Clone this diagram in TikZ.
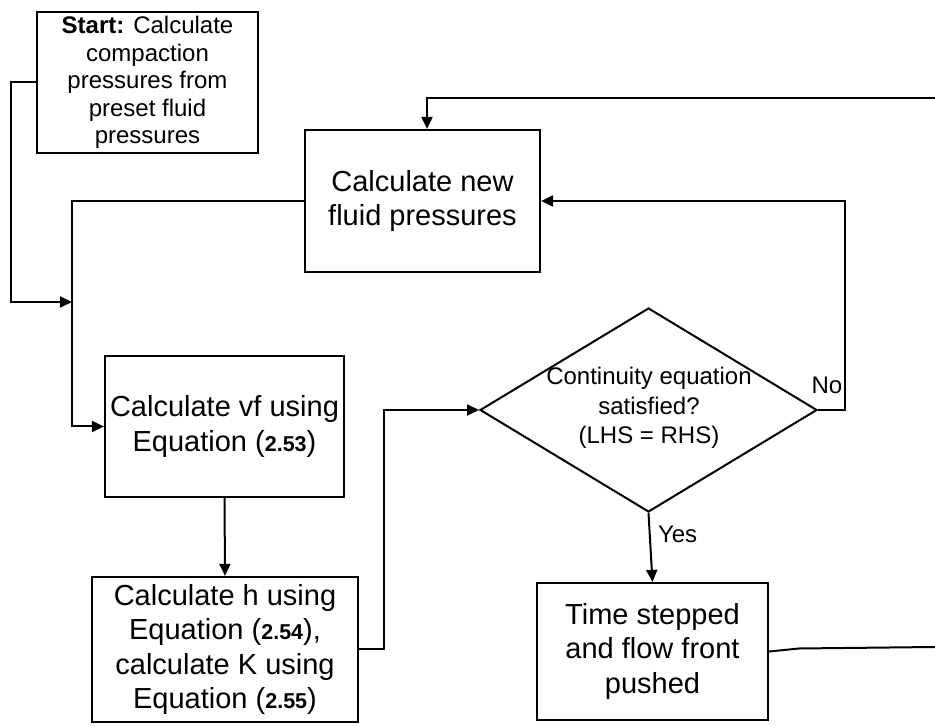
\documentclass[tikz,border=0pt]{standalone}
\usepackage{fontspec}
\setmainfont{Liberation Sans}
\usetikzlibrary{shapes.geometric,arrows.meta}

\newcommand{\eqnum}[1]{{\fontsize{21.5}{34}\selectfont\bfseries #1}}

\begin{document}
\begin{tikzpicture}[x=1pt,y=1pt,
    box/.style={draw,line width=2.2pt,align=center,inner sep=2pt,font=\fontsize{29}{34.5}\selectfont},
    startbox/.style={box,font=\fontsize{24}{27.5}\selectfont},
    decision/.style={draw,diamond,line width=2pt,minimum width=337pt,minimum height=204pt,inner sep=0pt},
    lbl/.style={font=\fontsize{24}{29.5}\selectfont,align=center},
    line/.style={line width=2pt},
    arr/.style={line,-{Triangle[length=12pt,width=11pt]}}]
    \useasboundingbox (0,0) rectangle (935,726);

    % boxes
    \node[startbox,minimum width=221pt,minimum height=141pt] (start) at (147.5,643.5)
        {\textbf{Start:} Calculate\\compaction\\pressures from\\preset fluid\\pressures};
    \node[box,minimum width=235pt,minimum height=142pt] (newp) at (422.5,525)
        {Calculate new\\fluid pressures};
    \node[box,minimum width=239pt,minimum height=141pt] (vf) at (224.5,299.5)
        {Calculate vf using\\Equation (\eqnum{2.53})};
    \node[box,minimum width=266pt,minimum height=145pt] (hk) at (225,76.5)
        {Calculate h using\\Equation (\eqnum{2.54}),\\calculate K using\\Equation (\eqnum{2.55})};
    \node[decision] (chk) at (648.5,316) {};
    \node[lbl] (chktxt) at (649,318) {Continuity equation\\satisfied?\\(LHS = RHS)};
    \node[box,minimum width=231pt,minimum height=137pt] (step) at (652.5,74.5)
        {Time stepped\\and flow front\\pushed};

    % loose ends at the right edge
    \coordinate (j1) at (72,424);
    \coordinate (e1) at (935,79);
    \coordinate (e2) at (935,628);

    % connectors
    \draw[arr] (start.west) -- ++(-25,0) |- (j1);
    \draw[arr] (newp.west) -| (j1) |- (vf.west);
    \draw[arr] (vf.south) -- (hk.north);
    \draw[arr] (hk.east) -- ++(25,0) |- (chk.west);
    \draw[arr] (chk.east) -- ++(27,0) |- (newp.east);
    \draw[arr] (chk.south) -- (step.north);
    \draw[line] (step.east) -- ++(30,3) -- (e1);
    \draw[arr] (e2) -| ([xshift=4.5pt]newp.north);

    % labels
    \node[lbl] (no) at ([xshift=9pt,yshift=25pt]chk.east) {No};
    \node[lbl,anchor=west] (yes) at ([xshift=6pt,yshift=-21pt]chk.south) {Yes};
\end{tikzpicture}
\end{document}
